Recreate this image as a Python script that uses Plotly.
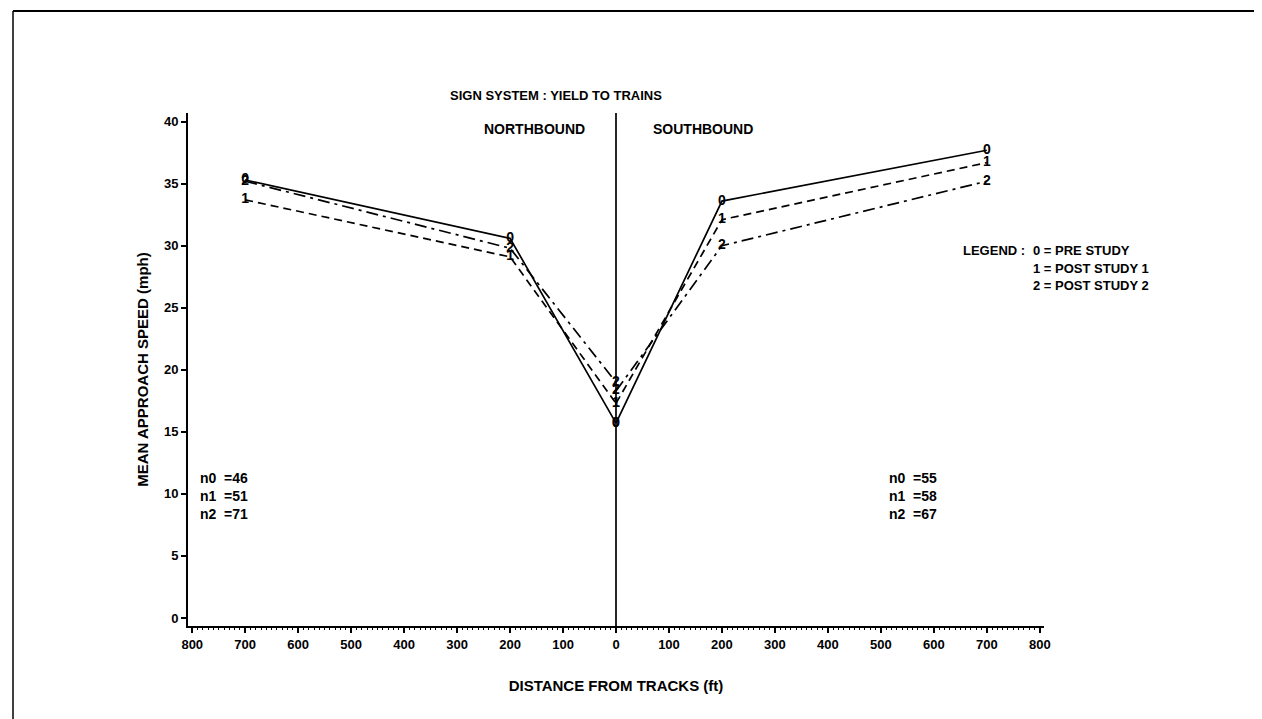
import plotly.graph_objects as go

# distances from tracks (ft), northbound shown as negative
north_x = [-700, -200, 0]
south_x = [0, 200, 700]

# mean approach speed (mph) per study period
pre_north = [35.3, 30.6, 15.7]
pre_south = [15.7, 33.6, 37.7]
post1_north = [33.7, 29.1, 17.3]
post1_south = [17.3, 32.1, 36.7]
post2_north = [35.2, 29.8, 19.0]
post2_south = [18.3, 30.0, 35.2]

series_names = ["PRE STUDY", "POST STUDY 1", "POST STUDY 2"]
symbols = ["0", "1", "2"]
dashes = ["solid", "8px,5px", "12px,5px,3px,5px"]

north_counts = [46, 51, 71]
south_counts = [55, 58, 67]

tick_vals = list(range(-800, 801, 100))
tick_text = [str(abs(v)) for v in tick_vals]

FONT = "Liberation Sans, Arial, sans-serif"


def bold(size):
    return dict(family=FONT, size=size, color="black", weight="bold")


fig = go.Figure()

north = [pre_north, post1_north, post2_north]
south = [pre_south, post1_south, post2_south]
for i in range(3):
    for xs, ys in [(north_x, north[i]), (south_x, south[i])]:
        fig.add_trace(go.Scatter(
            x=xs, y=ys,
            mode="lines+text",
            text=[symbols[i]] * len(xs),
            textposition="middle center",
            textfont=bold(14),
            line=dict(color="black", width=1.7, dash=dashes[i]),
            name=series_names[i],
            showlegend=False,
            cliponaxis=False,
        ))

# vertical line at the tracks
fig.add_shape(type="line", x0=0, x1=0, y0=-0.65, y1=40.7,
              line=dict(color="black", width=1.7))

fig.add_annotation(x=0.43, y=1.053, xref="paper", yref="paper",
                   text="SIGN SYSTEM : YIELD TO TRAINS", showarrow=False,
                   font=bold(13))
fig.add_annotation(x=-55, y=39.4, text="NORTHBOUND", showarrow=False,
                   xanchor="right", font=bold(14))
fig.add_annotation(x=66, y=39.4, text="SOUTHBOUND", showarrow=False,
                   xanchor="left", font=bold(14))

# legend text
leg_y = 29.6
fig.add_annotation(x=776, y=leg_y, text="LEGEND :", showarrow=False,
                   xanchor="right", yanchor="middle", font=bold(13))
for i in range(3):
    fig.add_annotation(x=784, y=leg_y - 1.4 * i,
                       text=f"{symbols[i]} = {series_names[i]}",
                       showarrow=False, xanchor="left", yanchor="middle",
                       font=bold(13))

# sample sizes
for counts, x0 in [(north_counts, -790), (south_counts, 512)]:
    for i, c in enumerate(counts):
        fig.add_annotation(x=x0, y=11.3 - 1.45 * i,
                           text=f"n{i}&nbsp;&nbsp;={c}",
                           showarrow=False, xanchor="left", font=bold(14))

# border of the scanned page
top = (618 - 3) / 513
left = -175 / 856
fig.add_shape(type="line", xref="paper", yref="paper",
              x0=left, x1=(1258 - 180) / 856, y0=top, y1=top,
              line=dict(color="black", width=2))
fig.add_shape(type="line", xref="paper", yref="paper",
              x0=left, x1=left, y0=top, y1=(618 - 716) / 513,
              line=dict(color="black", width=1.5))

fig.update_xaxes(
    range=[-808, 808],
    tickvals=tick_vals, ticktext=tick_text,
    ticks="outside", ticklen=5, tickwidth=1.5, tickcolor="black",
    minor=dict(dtick=10, ticks="outside", ticklen=2, tickcolor="black", tickwidth=1),
    showline=True, linecolor="black", linewidth=2,
    showgrid=False, zeroline=False,
    tickfont=bold(13),
    title=dict(text="DISTANCE FROM TRACKS (ft)", font=bold(15), standoff=30),
)
fig.update_yaxes(
    range=[-0.65, 40.7],
    tickvals=list(range(0, 41, 5)),
    ticks="outside", ticklen=5, tickwidth=1.5, tickcolor="black",
    showline=True, linecolor="black", linewidth=2,
    showgrid=False, zeroline=False,
    tickfont=bold(13),
    title=dict(text="MEAN APPROACH SPEED (mph)", font=bold(15), standoff=12),
)

fig.update_layout(
    width=1262, height=719,
    margin=dict(l=180, r=226, t=105, b=101),
    plot_bgcolor="white", paper_bgcolor="white",
    showlegend=False,
)

fig.write_html("out.html")
